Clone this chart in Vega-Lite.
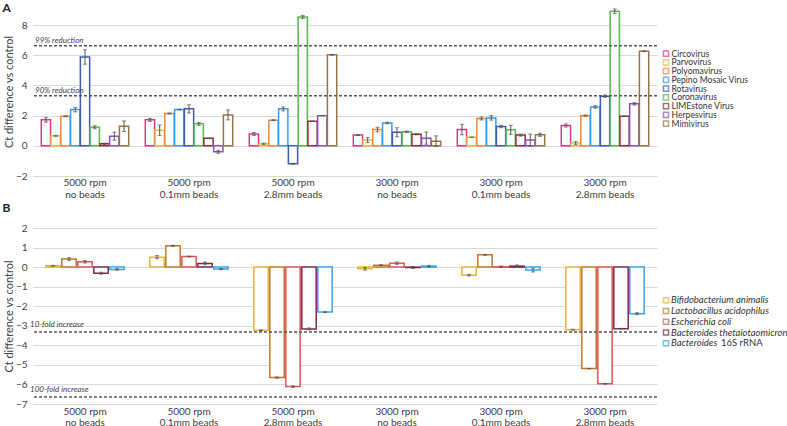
{
  "$schema": "https://vega.github.io/schema/vega-lite/v6.json",
  "padding": {"left": 2, "top": 2, "right": 0, "bottom": 0},
  "background": "white",
  "config": {
    "view": {"stroke": null},
    "font": "Lato",
    "axis": {"labelColor": "#404040", "titleColor": "#404040", "gridColor": "#d9d9d9", "domain": false, "ticks": false},
    "title": {"color": "#222222"}
  },
  "datasets": {
    "vnames": [{"s":"Circovirus"},{"s":"Parvovirus"},{"s":"Polyomavirus"},{"s":"Pepino Mosaic Virus"},{"s":"Rotavirus"},{"s":"Coronavirus"},{"s":"LIMEstone Virus"},{"s":"Herpesvirus"},{"s":"Mimivirus"}],
    "bnames": [{"s":"Bifidobacterium animalis","it":"Bifidobacterium animalis"},{"s":"Lactobacillus acidophilus","it":"Lactobacillus acidophilus"},{"s":"Escherichia coli","it":"Escherichia coli"},{"s":"Bacteroides thetaiotaomicron","it":"Bacteroides thetaiotaomicron"},{"s":"Bacteroides 16S rRNA","it":"Bacteroides","rm":"16S rRNA"}],
    "virus": [
      {"c":"5000 rpm|no beads","s":"Circovirus","v":1.72,"lo":1.57,"hi":1.87},
      {"c":"5000 rpm|no beads","s":"Parvovirus","v":0.66,"lo":0.63,"hi":0.69},
      {"c":"5000 rpm|no beads","s":"Polyomavirus","v":1.96,"lo":1.93,"hi":1.99},
      {"c":"5000 rpm|no beads","s":"Pepino Mosaic Virus","v":2.40,"lo":2.25,"hi":2.55},
      {"c":"5000 rpm|no beads","s":"Rotavirus","v":5.89,"lo":5.41,"hi":6.37},
      {"c":"5000 rpm|no beads","s":"Coronavirus","v":1.23,"lo":1.13,"hi":1.33},
      {"c":"5000 rpm|no beads","s":"LIMEstone Virus","v":0.13,"lo":0.08,"hi":0.18},
      {"c":"5000 rpm|no beads","s":"Herpesvirus","v":0.64,"lo":0.37,"hi":0.91},
      {"c":"5000 rpm|no beads","s":"Mimivirus","v":1.30,"lo":0.95,"hi":1.65},
      {"c":"5000 rpm|0.1mm beads","s":"Circovirus","v":1.72,"lo":1.62,"hi":1.82},
      {"c":"5000 rpm|0.1mm beads","s":"Parvovirus","v":1.03,"lo":0.68,"hi":1.38},
      {"c":"5000 rpm|0.1mm beads","s":"Polyomavirus","v":2.14,"lo":2.11,"hi":2.17},
      {"c":"5000 rpm|0.1mm beads","s":"Pepino Mosaic Virus","v":2.40,"lo":2.37,"hi":2.43},
      {"c":"5000 rpm|0.1mm beads","s":"Rotavirus","v":2.45,"lo":2.18,"hi":2.72},
      {"c":"5000 rpm|0.1mm beads","s":"Coronavirus","v":1.46,"lo":1.36,"hi":1.56},
      {"c":"5000 rpm|0.1mm beads","s":"LIMEstone Virus","v":0.50,"lo":0.48,"hi":0.52},
      {"c":"5000 rpm|0.1mm beads","s":"Herpesvirus","v":-0.40,"lo":-0.50,"hi":-0.30},
      {"c":"5000 rpm|0.1mm beads","s":"Mimivirus","v":2.05,"lo":1.72,"hi":2.38},
      {"c":"5000 rpm|2.8mm beads","s":"Circovirus","v":0.79,"lo":0.69,"hi":0.89},
      {"c":"5000 rpm|2.8mm beads","s":"Parvovirus","v":0.13,"lo":0.08,"hi":0.18},
      {"c":"5000 rpm|2.8mm beads","s":"Polyomavirus","v":1.70,"lo":1.67,"hi":1.73},
      {"c":"5000 rpm|2.8mm beads","s":"Pepino Mosaic Virus","v":2.45,"lo":2.32,"hi":2.58},
      {"c":"5000 rpm|2.8mm beads","s":"Rotavirus","v":-1.19,"lo":-1.22,"hi":-1.16},
      {"c":"5000 rpm|2.8mm beads","s":"Coronavirus","v":8.54,"lo":8.44,"hi":8.64},
      {"c":"5000 rpm|2.8mm beads","s":"LIMEstone Virus","v":1.63,"lo":1.63,"hi":1.63},
      {"c":"5000 rpm|2.8mm beads","s":"Herpesvirus","v":2.00,"lo":2.00,"hi":2.00},
      {"c":"5000 rpm|2.8mm beads","s":"Mimivirus","v":6.03,"lo":6.00,"hi":6.06},
      {"c":"3000 rpm|no beads","s":"Circovirus","v":0.71,"lo":0.68,"hi":0.74},
      {"c":"3000 rpm|no beads","s":"Parvovirus","v":0.38,"lo":0.21,"hi":0.55},
      {"c":"3000 rpm|no beads","s":"Polyomavirus","v":1.08,"lo":0.93,"hi":1.23},
      {"c":"3000 rpm|no beads","s":"Pepino Mosaic Virus","v":1.52,"lo":1.47,"hi":1.57},
      {"c":"3000 rpm|no beads","s":"Rotavirus","v":0.90,"lo":0.60,"hi":1.20},
      {"c":"3000 rpm|no beads","s":"Coronavirus","v":0.93,"lo":0.88,"hi":0.98},
      {"c":"3000 rpm|no beads","s":"LIMEstone Virus","v":0.77,"lo":0.72,"hi":0.82},
      {"c":"3000 rpm|no beads","s":"Herpesvirus","v":0.51,"lo":0.11,"hi":0.91},
      {"c":"3000 rpm|no beads","s":"Mimivirus","v":0.31,"lo":-0.04,"hi":0.66},
      {"c":"3000 rpm|0.1mm beads","s":"Circovirus","v":1.08,"lo":0.73,"hi":1.43},
      {"c":"3000 rpm|0.1mm beads","s":"Parvovirus","v":0.57,"lo":0.55,"hi":0.59},
      {"c":"3000 rpm|0.1mm beads","s":"Polyomavirus","v":1.81,"lo":1.71,"hi":1.91},
      {"c":"3000 rpm|0.1mm beads","s":"Pepino Mosaic Virus","v":1.85,"lo":1.70,"hi":2.00},
      {"c":"3000 rpm|0.1mm beads","s":"Rotavirus","v":1.28,"lo":1.20,"hi":1.36},
      {"c":"3000 rpm|0.1mm beads","s":"Coronavirus","v":1.06,"lo":0.76,"hi":1.36},
      {"c":"3000 rpm|0.1mm beads","s":"LIMEstone Virus","v":0.71,"lo":0.64,"hi":0.78},
      {"c":"3000 rpm|0.1mm beads","s":"Herpesvirus","v":0.38,"lo":-0.02,"hi":0.78},
      {"c":"3000 rpm|0.1mm beads","s":"Mimivirus","v":0.73,"lo":0.63,"hi":0.83},
      {"c":"3000 rpm|2.8mm beads","s":"Circovirus","v":1.35,"lo":1.25,"hi":1.45},
      {"c":"3000 rpm|2.8mm beads","s":"Parvovirus","v":0.18,"lo":0.08,"hi":0.28},
      {"c":"3000 rpm|2.8mm beads","s":"Polyomavirus","v":2.00,"lo":1.95,"hi":2.05},
      {"c":"3000 rpm|2.8mm beads","s":"Pepino Mosaic Virus","v":2.58,"lo":2.50,"hi":2.66},
      {"c":"3000 rpm|2.8mm beads","s":"Rotavirus","v":3.29,"lo":3.21,"hi":3.37},
      {"c":"3000 rpm|2.8mm beads","s":"Coronavirus","v":8.92,"lo":8.77,"hi":9.07},
      {"c":"3000 rpm|2.8mm beads","s":"LIMEstone Virus","v":1.96,"lo":1.94,"hi":1.98},
      {"c":"3000 rpm|2.8mm beads","s":"Herpesvirus","v":2.78,"lo":2.70,"hi":2.86},
      {"c":"3000 rpm|2.8mm beads","s":"Mimivirus","v":6.27,"lo":6.24,"hi":6.30}
    ],
    "bact": [
      {"c":"5000 rpm|no beads","s":"Bifidobacterium animalis","v":0.07,"lo":0.05,"hi":0.09},
      {"c":"5000 rpm|no beads","s":"Lactobacillus acidophilus","v":0.41,"lo":0.34,"hi":0.48},
      {"c":"5000 rpm|no beads","s":"Escherichia coli","v":0.27,"lo":0.21,"hi":0.33},
      {"c":"5000 rpm|no beads","s":"Bacteroides thetaiotaomicron","v":-0.31,"lo":-0.36,"hi":-0.26},
      {"c":"5000 rpm|no beads","s":"Bacteroides 16S rRNA","v":-0.12,"lo":-0.16,"hi":-0.08},
      {"c":"5000 rpm|0.1mm beads","s":"Bifidobacterium animalis","v":0.51,"lo":0.43,"hi":0.59},
      {"c":"5000 rpm|0.1mm beads","s":"Lactobacillus acidophilus","v":1.09,"lo":1.06,"hi":1.12},
      {"c":"5000 rpm|0.1mm beads","s":"Escherichia coli","v":0.54,"lo":0.52,"hi":0.56},
      {"c":"5000 rpm|0.1mm beads","s":"Bacteroides thetaiotaomicron","v":0.19,"lo":0.12,"hi":0.26},
      {"c":"5000 rpm|0.1mm beads","s":"Bacteroides 16S rRNA","v":-0.10,"lo":-0.12,"hi":-0.08},
      {"c":"5000 rpm|2.8mm beads","s":"Bifidobacterium animalis","v":-3.23,"lo":-3.25,"hi":-3.21},
      {"c":"5000 rpm|2.8mm beads","s":"Lactobacillus acidophilus","v":-5.65,"lo":-5.68,"hi":-5.62},
      {"c":"5000 rpm|2.8mm beads","s":"Escherichia coli","v":-6.11,"lo":-6.15,"hi":-6.07},
      {"c":"5000 rpm|2.8mm beads","s":"Bacteroides thetaiotaomicron","v":-3.16,"lo":-3.21,"hi":-3.11},
      {"c":"5000 rpm|2.8mm beads","s":"Bacteroides 16S rRNA","v":-2.30,"lo":-2.32,"hi":-2.28},
      {"c":"3000 rpm|no beads","s":"Bifidobacterium animalis","v":-0.09,"lo":-0.16,"hi":-0.02},
      {"c":"3000 rpm|no beads","s":"Lactobacillus acidophilus","v":0.10,"lo":0.08,"hi":0.12},
      {"c":"3000 rpm|no beads","s":"Escherichia coli","v":0.20,"lo":0.14,"hi":0.26},
      {"c":"3000 rpm|no beads","s":"Bacteroides thetaiotaomicron","v":-0.02,"lo":-0.07,"hi":0.03},
      {"c":"3000 rpm|no beads","s":"Bacteroides 16S rRNA","v":0.05,"lo":0.01,"hi":0.09},
      {"c":"3000 rpm|0.1mm beads","s":"Bifidobacterium animalis","v":-0.41,"lo":-0.45,"hi":-0.37},
      {"c":"3000 rpm|0.1mm beads","s":"Lactobacillus acidophilus","v":0.63,"lo":0.61,"hi":0.65},
      {"c":"3000 rpm|0.1mm beads","s":"Escherichia coli","v":0.02,"lo":-0.02,"hi":0.06},
      {"c":"3000 rpm|0.1mm beads","s":"Bacteroides thetaiotaomicron","v":0.05,"lo":-0.01,"hi":0.11},
      {"c":"3000 rpm|0.1mm beads","s":"Bacteroides 16S rRNA","v":-0.15,"lo":-0.25,"hi":-0.05},
      {"c":"3000 rpm|2.8mm beads","s":"Bifidobacterium animalis","v":-3.20,"lo":-3.22,"hi":-3.18},
      {"c":"3000 rpm|2.8mm beads","s":"Lactobacillus acidophilus","v":-5.19,"lo":-5.20,"hi":-5.18},
      {"c":"3000 rpm|2.8mm beads","s":"Escherichia coli","v":-5.97,"lo":-5.99,"hi":-5.95},
      {"c":"3000 rpm|2.8mm beads","s":"Bacteroides thetaiotaomicron","v":-3.15,"lo":-3.17,"hi":-3.13},
      {"c":"3000 rpm|2.8mm beads","s":"Bacteroides 16S rRNA","v":-2.38,"lo":-2.43,"hi":-2.33}
    ]
  },
  "resolve": {"scale": {"x": "independent", "y": "independent", "xOffset": "independent", "stroke": "independent"}},
  "spacing": 3,
  "vconcat": [
    {
      "spacing": 2,
      "resolve": {"scale": {"y": "independent", "stroke": "shared"}},
      "hconcat": [
        {
          "title": {"text": "A", "anchor": "start", "frame": "bounds", "fontSize": 12, "fontWeight": "bold", "offset": -8, "dx": -1},
          "width": 624,
          "height": 169,
          "data": {"name": "virus"},
          "layer": [
            {
              "mark": {"type": "bar", "fill": "white", "strokeWidth": 1.5},
              "encoding": {
                "x": {"field": "c", "type": "nominal", "sort": null, "scale": {"paddingInner": 0, "paddingOuter": 0}, "axis": {"title": null, "labelAngle": 0, "labelExpr": "split(datum.label, '|')", "labelFontSize": 10, "labelLineHeight": 12, "labelPadding": 1}},
                "xOffset": {"field": "s", "type": "nominal", "sort": null, "scale": {"paddingInner": 0.05, "paddingOuter": 0.85}},
                "y": {"field": "v", "type": "quantitative", "scale": {"domain": [-2, 9.2], "nice": false}, "axis": {"values": [-2, 0, 2, 4, 6, 8], "labelOverlap": false, "title": "Ct difference vs control", "titleFontSize": 11, "titleFontWeight": "normal", "labelFontSize": 10, "labelPadding": 6, "titlePadding": 1}},
                "stroke": {"field": "s", "type": "nominal", "sort": null, "scale": {"domain": ["Circovirus", "Parvovirus", "Polyomavirus", "Pepino Mosaic Virus", "Rotavirus", "Coronavirus", "LIMEstone Virus", "Herpesvirus", "Mimivirus"], "range": ["#E5338C", "#F4B93A", "#EE8838", "#3D9BE9", "#3E5AB8", "#56B94A", "#8E2F36", "#8A50C4", "#9A7440"]}, "legend": null}
              }
            },
            {
              "mark": {"type": "rule", "color": "#555555", "strokeWidth": 1},
              "encoding": {
                "x": {"field": "c", "type": "nominal", "sort": null},
                "xOffset": {"field": "s", "type": "nominal", "sort": null},
                "y": {"field": "lo", "type": "quantitative", "axis": {"values": [-2, 0, 2, 4, 6, 8], "labelOverlap": false, "title": "Ct difference vs control", "titleFontSize": 11, "titleFontWeight": "normal", "labelFontSize": 10, "labelPadding": 6, "titlePadding": 1}},
                "y2": {"field": "hi"}
              }
            },
            {
              "mark": {"type": "tick", "color": "#555555", "thickness": 1, "size": 4},
              "encoding": {
                "x": {"field": "c", "type": "nominal", "sort": null},
                "xOffset": {"field": "s", "type": "nominal", "sort": null},
                "y": {"field": "lo", "type": "quantitative", "axis": {"values": [-2, 0, 2, 4, 6, 8], "labelOverlap": false, "title": "Ct difference vs control", "titleFontSize": 11, "titleFontWeight": "normal", "labelFontSize": 10, "labelPadding": 6, "titlePadding": 1}}
              }
            },
            {
              "mark": {"type": "tick", "color": "#555555", "thickness": 1, "size": 4},
              "encoding": {
                "x": {"field": "c", "type": "nominal", "sort": null},
                "xOffset": {"field": "s", "type": "nominal", "sort": null},
                "y": {"field": "hi", "type": "quantitative", "axis": {"values": [-2, 0, 2, 4, 6, 8], "labelOverlap": false, "title": "Ct difference vs control", "titleFontSize": 11, "titleFontWeight": "normal", "labelFontSize": 10, "labelPadding": 6, "titlePadding": 1}}
              }
            },
            {
              "data": {"values": [{"t": "99% reduction", "y": 6.64}, {"t": "90% reduction", "y": 3.32}]},
              "mark": {"type": "rule", "color": "#555555", "strokeWidth": 1.5, "strokeDash": [3, 2]},
              "encoding": {"y": {"field": "y", "type": "quantitative", "axis": {"values": [-2, 0, 2, 4, 6, 8], "labelOverlap": false, "title": "Ct difference vs control", "titleFontSize": 11, "titleFontWeight": "normal", "labelFontSize": 10, "labelPadding": 6, "titlePadding": 1}}}
            },
            {
              "data": {"values": [{"t": "99% reduction", "y": 6.64}, {"t": "90% reduction", "y": 3.32}]},
              "mark": {"type": "text", "align": "left", "baseline": "bottom", "fontStyle": "italic", "fontSize": 8, "dx": 2, "dy": -1, "color": "#404040"},
              "encoding": {
                "x": {"datum": "5000 rpm|no beads", "bandPosition": 0},
                "y": {"field": "y", "type": "quantitative", "axis": {"values": [-2, 0, 2, 4, 6, 8], "labelOverlap": false, "title": "Ct difference vs control", "titleFontSize": 11, "titleFontWeight": "normal", "labelFontSize": 10, "labelPadding": 6, "titlePadding": 1}},
                "text": {"field": "t"}
              }
            }
          ]
        },
        {
          "width": 10,
          "height": 169,
          "data": {"name": "vnames"},
          "encoding": {"y": {"field": "s", "type": "nominal", "sort": null, "scale": {"type": "point", "range": [46.6, 116.6], "padding": 0}, "axis": null}},
          "layer": [
            {
              "mark": {"type": "square", "size": 26, "fill": "white", "strokeWidth": 1.5},
              "encoding": {"stroke": {"field": "s", "type": "nominal", "sort": null, "legend": null}}
            },
            {
              "mark": {"type": "text", "align": "left", "baseline": "middle", "dx": 5.5, "fontSize": 8.6, "color": "#333333"},
              "encoding": {"text": {"field": "s"}}
            }
          ]
        }
      ]
    },
    {
      "spacing": 2,
      "resolve": {"scale": {"y": "independent", "stroke": "shared"}},
      "hconcat": [
        {
          "title": {"text": "B", "anchor": "start", "frame": "bounds", "fontSize": 12, "fontWeight": "bold", "offset": 8, "dx": -1},
          "width": 624,
          "height": 176,
          "data": {"name": "bact"},
          "layer": [
            {
              "mark": {"type": "bar", "fill": "white", "strokeWidth": 1.5},
              "encoding": {
                "x": {"field": "c", "type": "nominal", "sort": null, "scale": {"paddingInner": 0, "paddingOuter": 0}, "axis": {"title": null, "labelAngle": 0, "labelExpr": "split(datum.label, '|')", "labelFontSize": 10, "labelLineHeight": 11, "labelPadding": 2}},
                "xOffset": {"field": "s", "type": "nominal", "sort": null, "scale": {"paddingInner": 0.1, "paddingOuter": 0.8}},
                "y": {"field": "v", "type": "quantitative", "scale": {"domain": [-7, 2], "nice": false}, "axis": {"values": [-7, -6, -5, -4, -3, -2, -1, 0, 1, 2], "labelOverlap": false, "title": "Ct difference vs control", "titleFontSize": 11, "titleFontWeight": "normal", "labelFontSize": 10, "labelPadding": 6, "titlePadding": 1}},
                "stroke": {"field": "s", "type": "nominal", "sort": null, "scale": {"domain": ["Bifidobacterium animalis", "Lactobacillus acidophilus", "Escherichia coli", "Bacteroides thetaiotaomicron", "Bacteroides 16S rRNA"], "range": ["#E8B43A", "#C0782F", "#E05555", "#7B2C52", "#3BA3E8"]}, "legend": null}
              }
            },
            {
              "mark": {"type": "rule", "color": "#555555", "strokeWidth": 1},
              "encoding": {
                "x": {"field": "c", "type": "nominal", "sort": null},
                "xOffset": {"field": "s", "type": "nominal", "sort": null},
                "y": {"field": "lo", "type": "quantitative", "axis": {"values": [-7, -6, -5, -4, -3, -2, -1, 0, 1, 2], "labelOverlap": false, "title": "Ct difference vs control", "titleFontSize": 11, "titleFontWeight": "normal", "labelFontSize": 10, "labelPadding": 6, "titlePadding": 1}},
                "y2": {"field": "hi"}
              }
            },
            {
              "mark": {"type": "tick", "color": "#555555", "thickness": 1, "size": 4},
              "encoding": {
                "x": {"field": "c", "type": "nominal", "sort": null},
                "xOffset": {"field": "s", "type": "nominal", "sort": null},
                "y": {"field": "lo", "type": "quantitative", "axis": {"values": [-7, -6, -5, -4, -3, -2, -1, 0, 1, 2], "labelOverlap": false, "title": "Ct difference vs control", "titleFontSize": 11, "titleFontWeight": "normal", "labelFontSize": 10, "labelPadding": 6, "titlePadding": 1}}
              }
            },
            {
              "mark": {"type": "tick", "color": "#555555", "thickness": 1, "size": 4},
              "encoding": {
                "x": {"field": "c", "type": "nominal", "sort": null},
                "xOffset": {"field": "s", "type": "nominal", "sort": null},
                "y": {"field": "hi", "type": "quantitative", "axis": {"values": [-7, -6, -5, -4, -3, -2, -1, 0, 1, 2], "labelOverlap": false, "title": "Ct difference vs control", "titleFontSize": 11, "titleFontWeight": "normal", "labelFontSize": 10, "labelPadding": 6, "titlePadding": 1}}
              }
            },
            {
              "data": {"values": [{"t": "10-fold increase", "y": -3.32}, {"t": "100-fold increase", "y": -6.64}]},
              "mark": {"type": "rule", "color": "#555555", "strokeWidth": 1.5, "strokeDash": [3, 2]},
              "encoding": {"y": {"field": "y", "type": "quantitative", "axis": {"values": [-7, -6, -5, -4, -3, -2, -1, 0, 1, 2], "labelOverlap": false, "title": "Ct difference vs control", "titleFontSize": 11, "titleFontWeight": "normal", "labelFontSize": 10, "labelPadding": 6, "titlePadding": 1}}}
            },
            {
              "data": {"values": [{"t": "10-fold increase", "y": -3.32}, {"t": "100-fold increase", "y": -6.64}]},
              "mark": {"type": "text", "align": "left", "baseline": "bottom", "fontStyle": "italic", "fontSize": 8, "dx": -3, "dy": -3, "color": "#404040"},
              "encoding": {
                "x": {"datum": "5000 rpm|no beads", "bandPosition": 0},
                "y": {"field": "y", "type": "quantitative", "axis": {"values": [-7, -6, -5, -4, -3, -2, -1, 0, 1, 2], "labelOverlap": false, "title": "Ct difference vs control", "titleFontSize": 11, "titleFontWeight": "normal", "labelFontSize": 10, "labelPadding": 6, "titlePadding": 1}},
                "text": {"field": "t"}
              }
            }
          ]
        },
        {
          "width": 10,
          "height": 176,
          "data": {"name": "bnames"},
          "encoding": {"y": {"field": "s", "type": "nominal", "sort": null, "scale": {"type": "point", "range": [72.3, 115.3], "padding": 0}, "axis": null}},
          "layer": [
            {
              "mark": {"type": "square", "size": 26, "fill": "white", "strokeWidth": 1.5},
              "encoding": {"stroke": {"field": "s", "type": "nominal", "sort": null, "legend": null}}
            },
            {
              "mark": {"type": "text", "align": "left", "baseline": "middle", "dx": 5, "fontSize": 9.5, "fontStyle": "italic", "color": "#333333"},
              "encoding": {"text": {"field": "it"}}
            },
            {
              "transform": [{"filter": "datum.rm"}],
              "mark": {"type": "text", "align": "left", "baseline": "middle", "dx": 55, "fontSize": 9.5, "color": "#333333"},
              "encoding": {"text": {"field": "rm"}}
            }
          ]
        }
      ]
    }
  ]
}
